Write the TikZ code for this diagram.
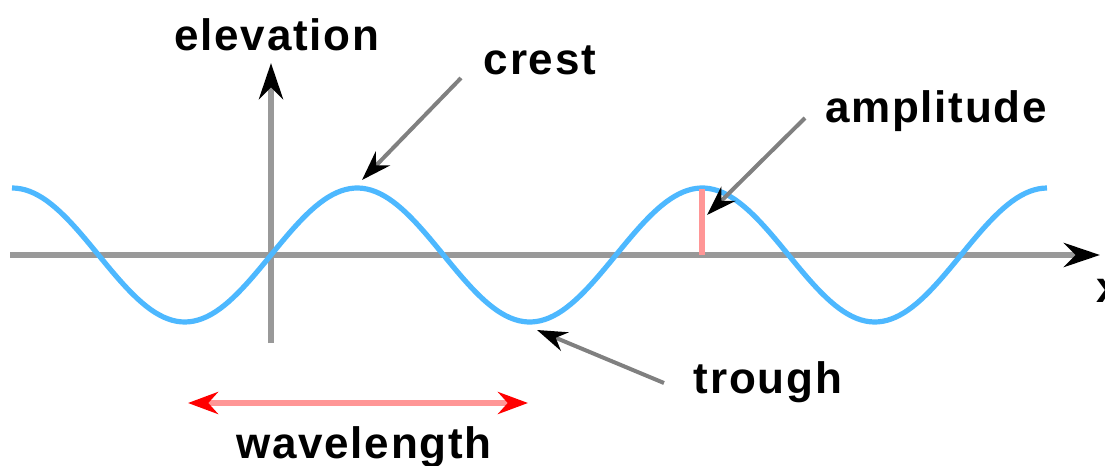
\documentclass[tikz,border=0pt]{standalone}
\usepackage{fontspec}
\setmainfont{Liberation Sans}[LetterSpace=4]
\usetikzlibrary{arrows.meta}
\definecolor{wavecol}{RGB}{77,184,255}
\definecolor{axiscol}{RGB}{153,153,153}
\definecolor{pinkcol}{RGB}{255,150,150}
\definecolor{ptrcol}{RGB}{128,128,128}
\tikzset{
  lbl/.style={font=\bfseries\fontsize{22}{26}\selectfont,anchor=base,inner sep=0pt},
  axis/.style={draw=axiscol,line width=3pt,-{Stealth[black,length=18pt,width=12pt]}},
  wave/.style={draw=wavecol,line width=2.6pt},
  pointer/.style={draw=ptrcol,line width=2pt,-{Stealth[black,length=15pt,width=10pt]}},
  ampline/.style={draw=pinkcol,line width=3pt},
  dimline/.style={draw=pinkcol,line width=2.6pt,{Stealth[red,length=15pt,width=11pt]}-{Stealth[red,length=15pt,width=11pt]}}
}
\begin{document}
\begin{tikzpicture}[x=0.5pt,y=-0.5pt]
  \useasboundingbox (0,0) rectangle (1105,466);
  \draw
    (277,50) node[lbl] (elev){elevation}
    (540,75) node[lbl] (crest){crest}
    (936,122) node[lbl] (ampl){amplitude}
    (768,393) node[lbl] (trough){trough}
    (364,458) node[lbl] (wlen){wavelength}
    (1096,302) node[lbl,anchor=base west] (xlab){x};
  % axes
  \coordinate (xl) at (10,255);
  \coordinate (xr) at (1100,255);
  \coordinate (yb) at (271,343);
  \coordinate (yt) at (271,63);
  \draw[axis] (xl) -- (xr);
  \draw[axis] (yb) -- (yt);
  % the wave
  \draw[wave] plot[domain=12:1047,samples=240] (\x,{255-67*sin((\x-271)*1.04348)});
  \coordinate (apeak) at (702,189);
  \coordinate (afoot) at (702,255);
  \draw[ampline] (afoot) -- (apeak);
  % pointers
  \coordinate (crestfrom) at (461,78);
  \coordinate (crestto) at (362,180);
  \coordinate (amplfrom) at (805,118);
  \coordinate (amplto) at (707,215);
  \coordinate (troughfrom) at (664,383);
  \coordinate (troughto) at (537,330);
  \begin{scope}[pointer]
    \draw (crestfrom) -- (crestto);
    \draw (amplfrom) -- (amplto);
    \draw (troughfrom) -- (troughto);
  \end{scope}
  \coordinate (wl1) at (188,403);
  \coordinate (wl2) at (528,403);
  \draw[dimline] (wl1) -- (wl2);
\end{tikzpicture}
\end{document}
